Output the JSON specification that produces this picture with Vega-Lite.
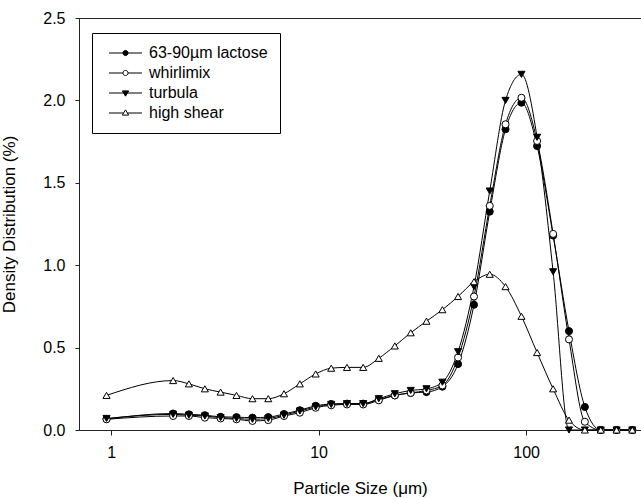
{
  "$schema": "https://vega.github.io/schema/vega-lite/v6.json",
  "width": 562,
  "height": 412,
  "autosize": {"type": "none"},
  "padding": {"left": 79, "top": 18, "right": 0, "bottom": 68},
  "background": "white",
  "config": {
    "font": "Liberation Sans",
    "view": {"stroke": "#222", "strokeWidth": 1},
    "axis": {"domainColor": "#222", "tickColor": "#222", "labelColor": "black", "titleColor": "black", "grid": false, "labelFont": "Liberation Sans", "titleFont": "Liberation Sans", "labelFontSize": 16, "titleFontSize": 17, "titleFontWeight": "normal"},
    "legend": {"labelFont": "Liberation Sans", "labelFontSize": 16, "labelColor": "black"}
  },
  "datasets": {
    "d": [
      {"series": "63-90µm lactose", "size": 0.95, "density": 0.067},
      {"series": "63-90µm lactose", "size": 1.99, "density": 0.10},
      {"series": "63-90µm lactose", "size": 2.37, "density": 0.095},
      {"series": "63-90µm lactose", "size": 2.83, "density": 0.09},
      {"series": "63-90µm lactose", "size": 3.37, "density": 0.08},
      {"series": "63-90µm lactose", "size": 4.02, "density": 0.078},
      {"series": "63-90µm lactose", "size": 4.8, "density": 0.075},
      {"series": "63-90µm lactose", "size": 5.72, "density": 0.078},
      {"series": "63-90µm lactose", "size": 6.81, "density": 0.097},
      {"series": "63-90µm lactose", "size": 8.12, "density": 0.12},
      {"series": "63-90µm lactose", "size": 9.68, "density": 0.147},
      {"series": "63-90µm lactose", "size": 11.5, "density": 0.158},
      {"series": "63-90µm lactose", "size": 13.7, "density": 0.16},
      {"series": "63-90µm lactose", "size": 16.4, "density": 0.16},
      {"series": "63-90µm lactose", "size": 19.5, "density": 0.185},
      {"series": "63-90µm lactose", "size": 23.3, "density": 0.21},
      {"series": "63-90µm lactose", "size": 27.8, "density": 0.225},
      {"series": "63-90µm lactose", "size": 33.1, "density": 0.23},
      {"series": "63-90µm lactose", "size": 39.5, "density": 0.263},
      {"series": "63-90µm lactose", "size": 47.0, "density": 0.40},
      {"series": "63-90µm lactose", "size": 56.1, "density": 0.76},
      {"series": "63-90µm lactose", "size": 66.8, "density": 1.325},
      {"series": "63-90µm lactose", "size": 79.6, "density": 1.825},
      {"series": "63-90µm lactose", "size": 95.0, "density": 1.986},
      {"series": "63-90µm lactose", "size": 113, "density": 1.723},
      {"series": "63-90µm lactose", "size": 135, "density": 1.18},
      {"series": "63-90µm lactose", "size": 161, "density": 0.60},
      {"series": "63-90µm lactose", "size": 192, "density": 0.14},
      {"series": "63-90µm lactose", "size": 229, "density": 0},
      {"series": "63-90µm lactose", "size": 273, "density": 0},
      {"series": "63-90µm lactose", "size": 325, "density": 0},
      {"series": "whirlimix", "size": 0.95, "density": 0.065},
      {"series": "whirlimix", "size": 1.99, "density": 0.085},
      {"series": "whirlimix", "size": 2.37, "density": 0.085},
      {"series": "whirlimix", "size": 2.83, "density": 0.075},
      {"series": "whirlimix", "size": 3.37, "density": 0.07},
      {"series": "whirlimix", "size": 4.02, "density": 0.065},
      {"series": "whirlimix", "size": 4.8, "density": 0.055},
      {"series": "whirlimix", "size": 5.72, "density": 0.06},
      {"series": "whirlimix", "size": 6.81, "density": 0.085},
      {"series": "whirlimix", "size": 8.12, "density": 0.105},
      {"series": "whirlimix", "size": 9.68, "density": 0.135},
      {"series": "whirlimix", "size": 11.5, "density": 0.15},
      {"series": "whirlimix", "size": 13.7, "density": 0.155},
      {"series": "whirlimix", "size": 16.4, "density": 0.155},
      {"series": "whirlimix", "size": 19.5, "density": 0.18},
      {"series": "whirlimix", "size": 23.3, "density": 0.21},
      {"series": "whirlimix", "size": 27.8, "density": 0.225},
      {"series": "whirlimix", "size": 33.1, "density": 0.24},
      {"series": "whirlimix", "size": 39.5, "density": 0.27},
      {"series": "whirlimix", "size": 47.0, "density": 0.44},
      {"series": "whirlimix", "size": 56.1, "density": 0.81},
      {"series": "whirlimix", "size": 66.8, "density": 1.36},
      {"series": "whirlimix", "size": 79.6, "density": 1.855},
      {"series": "whirlimix", "size": 95.0, "density": 2.016},
      {"series": "whirlimix", "size": 113, "density": 1.754},
      {"series": "whirlimix", "size": 135, "density": 1.19},
      {"series": "whirlimix", "size": 161, "density": 0.55},
      {"series": "whirlimix", "size": 192, "density": 0.05},
      {"series": "whirlimix", "size": 229, "density": 0},
      {"series": "whirlimix", "size": 273, "density": 0},
      {"series": "whirlimix", "size": 325, "density": 0},
      {"series": "turbula", "size": 0.95, "density": 0.07},
      {"series": "turbula", "size": 1.99, "density": 0.095},
      {"series": "turbula", "size": 2.37, "density": 0.09},
      {"series": "turbula", "size": 2.83, "density": 0.085},
      {"series": "turbula", "size": 3.37, "density": 0.075},
      {"series": "turbula", "size": 4.02, "density": 0.07},
      {"series": "turbula", "size": 4.8, "density": 0.065},
      {"series": "turbula", "size": 5.72, "density": 0.07},
      {"series": "turbula", "size": 6.81, "density": 0.09},
      {"series": "turbula", "size": 8.12, "density": 0.115},
      {"series": "turbula", "size": 9.68, "density": 0.14},
      {"series": "turbula", "size": 11.5, "density": 0.155},
      {"series": "turbula", "size": 13.7, "density": 0.16},
      {"series": "turbula", "size": 16.4, "density": 0.16},
      {"series": "turbula", "size": 19.5, "density": 0.19},
      {"series": "turbula", "size": 23.3, "density": 0.22},
      {"series": "turbula", "size": 27.8, "density": 0.24},
      {"series": "turbula", "size": 33.1, "density": 0.25},
      {"series": "turbula", "size": 39.5, "density": 0.29},
      {"series": "turbula", "size": 47.0, "density": 0.475},
      {"series": "turbula", "size": 56.1, "density": 0.87},
      {"series": "turbula", "size": 66.8, "density": 1.45},
      {"series": "turbula", "size": 79.6, "density": 2.0},
      {"series": "turbula", "size": 95.0, "density": 2.158},
      {"series": "turbula", "size": 113, "density": 1.776},
      {"series": "turbula", "size": 135, "density": 0.96},
      {"series": "turbula", "size": 161, "density": 0},
      {"series": "turbula", "size": 192, "density": 0},
      {"series": "turbula", "size": 229, "density": 0},
      {"series": "turbula", "size": 273, "density": 0},
      {"series": "turbula", "size": 325, "density": 0},
      {"series": "high shear", "size": 0.95, "density": 0.21},
      {"series": "high shear", "size": 1.99, "density": 0.30},
      {"series": "high shear", "size": 2.37, "density": 0.28},
      {"series": "high shear", "size": 2.83, "density": 0.25},
      {"series": "high shear", "size": 3.37, "density": 0.23},
      {"series": "high shear", "size": 4.02, "density": 0.21},
      {"series": "high shear", "size": 4.8, "density": 0.19},
      {"series": "high shear", "size": 5.72, "density": 0.19},
      {"series": "high shear", "size": 6.81, "density": 0.22},
      {"series": "high shear", "size": 8.12, "density": 0.28},
      {"series": "high shear", "size": 9.68, "density": 0.34},
      {"series": "high shear", "size": 11.5, "density": 0.375},
      {"series": "high shear", "size": 13.7, "density": 0.38},
      {"series": "high shear", "size": 16.4, "density": 0.38},
      {"series": "high shear", "size": 19.5, "density": 0.435},
      {"series": "high shear", "size": 23.3, "density": 0.51},
      {"series": "high shear", "size": 27.8, "density": 0.59},
      {"series": "high shear", "size": 33.1, "density": 0.66},
      {"series": "high shear", "size": 39.5, "density": 0.73},
      {"series": "high shear", "size": 47.0, "density": 0.81},
      {"series": "high shear", "size": 56.1, "density": 0.90},
      {"series": "high shear", "size": 66.8, "density": 0.945},
      {"series": "high shear", "size": 79.6, "density": 0.87},
      {"series": "high shear", "size": 95.0, "density": 0.69},
      {"series": "high shear", "size": 113, "density": 0.47},
      {"series": "high shear", "size": 135, "density": 0.25},
      {"series": "high shear", "size": 161, "density": 0.06},
      {"series": "high shear", "size": 192, "density": 0},
      {"series": "high shear", "size": 229, "density": 0},
      {"series": "high shear", "size": 273, "density": 0},
      {"series": "high shear", "size": 325, "density": 0}
    ]
  },
  "data": {"name": "d"},
  "encoding": {
    "x": {
      "field": "size", "type": "quantitative",
      "scale": {"type": "log", "domain": [0.7, 358], "nice": false},
      "axis": {"values": [1, 10, 100], "format": "d", "tickSize": 5, "labelPadding": 9, "title": "Particle Size (μm)", "titleX": 281, "titleY": 63, "titleBaseline": "alphabetic", "titleAlign": "center"}
    },
    "y": {
      "field": "density", "type": "quantitative",
      "scale": {"domain": [0, 2.5], "nice": false},
      "axis": {"values": [0, 0.5, 1, 1.5, 2, 2.5], "format": ".1f", "tickSize": 4, "labelPadding": 10, "title": "Density Distribution (%)", "titleX": -65, "titleY": 206, "titleAngle": 270, "titleBaseline": "alphabetic", "titleAlign": "center"}
    }
  },
  "layer": [
    {
      "mark": {"type": "line", "interpolate": "monotone", "color": "black", "strokeWidth": 1},
      "encoding": {"detail": {"field": "series"}}
    },
    {
      "mark": {"type": "point", "filled": true, "stroke": "black", "strokeWidth": 1, "size": 50, "opacity": 1},
      "encoding": {
        "shape": {
          "field": "series", "type": "nominal",
          "scale": {"domain": ["63-90µm lactose", "whirlimix", "turbula", "high shear"], "range": ["circle", "circle", "triangle-down", "triangle-up"]},
          "legend": null
        },
        "fill": {
          "field": "series", "type": "nominal",
          "scale": {"domain": ["63-90µm lactose", "whirlimix", "turbula", "high shear"], "range": ["black", "white", "black", "white"]},
          "legend": null
        }
      }
    },
    {
      "transform": [{"filter": "datum.size < 0"}],
      "mark": {"type": "point", "filled": true, "strokeWidth": 1, "size": 49, "opacity": 1},
      "encoding": {
        "shape": {
          "field": "series", "type": "nominal", "title": null,
          "scale": {"domain": ["63-90µm lactose", "whirlimix", "turbula", "high shear"], "range": [
            "M-4.714,0H-0.74M0.74,0H4.714M0.74,0A0.74,0.74,0,1,1,-0.74,0A0.74,0.74,0,1,1,0.74,0Z",
            "M-4.714,0H-0.74M0.74,0H4.714M0.74,0A0.74,0.74,0,1,1,-0.74,0A0.74,0.74,0,1,1,0.74,0Z",
            "M-4.714,0H4.714M-0.9,-0.6L0.9,-0.6L0,0.9Z",
            "M-4.714,0H-0.54M0.54,0H4.714M-0.9,0.6L0.9,0.6L0,-0.9Z"
          ]},
          "legend": {"title": null, "orient": "none", "legendX": 13, "legendY": 15, "strokeColor": "black", "fillColor": "white", "padding": 12, "symbolSize": 49, "symbolOffset": 13.5, "labelOffset": 15.5, "rowPadding": 4, "symbolStrokeWidth": 1, "symbolOpacity": 1}
        },
        "fill": {
          "field": "series", "type": "nominal", "title": null,
          "scale": {"domain": ["63-90µm lactose", "whirlimix", "turbula", "high shear"], "range": ["black", "white", "black", "white"]},
          "legend": {"title": null, "orient": "none", "legendX": 13, "legendY": 15, "strokeColor": "black", "fillColor": "white", "padding": 12, "symbolSize": 49, "symbolOffset": 13.5, "labelOffset": 15.5, "rowPadding": 4, "symbolStrokeWidth": 1, "symbolOpacity": 1}
        },
        "stroke": {
          "field": "series", "type": "nominal", "title": null,
          "scale": {"domain": ["63-90µm lactose", "whirlimix", "turbula", "high shear"], "range": ["black", "black", "black", "black"]},
          "legend": {"title": null, "orient": "none", "legendX": 13, "legendY": 15, "strokeColor": "black", "fillColor": "white", "padding": 12, "symbolSize": 49, "symbolOffset": 13.5, "labelOffset": 15.5, "rowPadding": 4, "symbolStrokeWidth": 1, "symbolOpacity": 1}
        }
      }
    }
  ],
  "resolve": {"scale": {"shape": "independent", "fill": "independent", "stroke": "independent"}, "legend": {"shape": "independent", "fill": "independent", "stroke": "independent"}}
}
